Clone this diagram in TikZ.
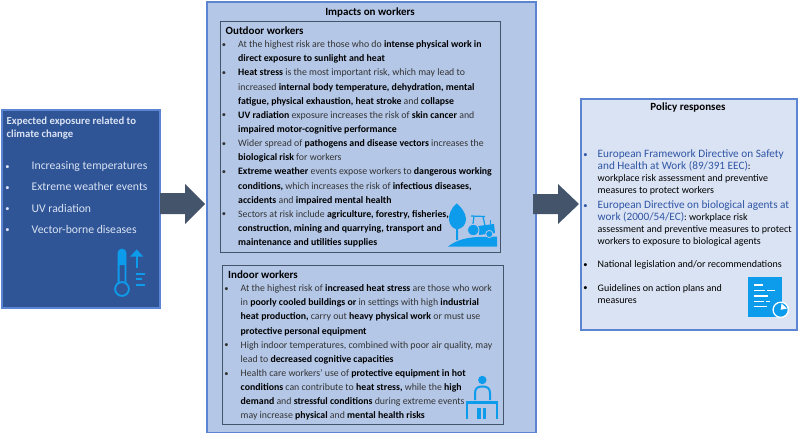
\documentclass[tikz,border=0pt]{standalone}
\usepackage{fontspec}
\setmainfont{Carlito}
\definecolor{edgeblue}{HTML}{5B85D2}
\definecolor{darkblue}{HTML}{2F5597}
\definecolor{midblue}{HTML}{B4C7E7}
\definecolor{paleblue}{HTML}{DAE3F3}
\definecolor{slate}{HTML}{44546A}
\definecolor{iconblue}{HTML}{0D9CEB}
\definecolor{linkblue}{HTML}{2F55A5}
\definecolor{bodygrey}{HTML}{333333}
\tikzset{
  panel/.style={draw=edgeblue,line width=2pt},
  subpanel/.style={draw=slate,line width=1pt},
  blockarrow/.style={fill=slate},
  textblock/.style={anchor=north west,align=left,inner sep=0pt,font=\fontsize{9.82pt}{14.15pt}\selectfont,text=bodygrey},
  heading/.style={inner sep=0pt,font=\fontsize{11pt}{13pt}\selectfont\bfseries,text=black},
  icon/.style={fill=iconblue,draw=none},
  iconline/.style={draw=iconblue,line width=1.8pt},
  docline/.style={draw=white,line width=1.1pt},
}
\newcommand{\smallbul}{{\fontsize{8.5pt}{8.5pt}\selectfont\raisebox{0.4pt}{•}}}
\newcommand{\bul}{\leavevmode\llap{\smallbul\hspace{12pt}}}
\newcommand{\bb}[1]{\textbf{\textcolor{black}{#1}}}
\newcommand{\eu}[1]{{\fontsize{11.25pt}{11.8pt}\selectfont\textcolor{linkblue}{#1}}}
\begin{document}
\begin{tikzpicture}[x=1pt,y=-1pt]
\useasboundingbox (0,0) rectangle (800,433);
% panels
\node[panel,fill=darkblue,minimum width=158pt,minimum height=197pt,inner sep=0pt,anchor=north west] (expo) at (1,109.5) {};
\node[panel,fill=midblue,minimum width=329pt,minimum height=431pt,inner sep=0pt,anchor=north west] (impacts) at (206,1) {};
\node[panel,fill=paleblue,minimum width=216pt,minimum height=231pt,inner sep=0pt,anchor=north west] (policy) at (580,98) {};
\node[subpanel,minimum width=280pt,minimum height=231pt,inner sep=0pt,anchor=north west] (outdoor) at (220,21) {};
\node[subpanel,minimum width=281pt,minimum height=159pt,inner sep=0pt,anchor=north west] (indoor) at (222,264.5) {};
% block arrows
\fill[blockarrow] (160,193) -- (185,193) -- (185,184) -- (205,204) -- (185,224) -- (185,214) -- (160,214) -- cycle;
\fill[blockarrow] (533,194) -- (558,194) -- (558,184) -- (579,204) -- (558,224) -- (558,214) -- (533,214) -- cycle;
% left text
\node[anchor=north west,align=left,inner sep=0pt,text=paleblue,font=\fontsize{10.7pt}{13pt}\selectfont\bfseries] (expotitle) at (6.5,117) {Expected exposure related to\\climate change};
\node[anchor=north west,align=left,inner sep=0pt,text=paleblue,font=\fontsize{11.7pt}{21.2pt}\selectfont] (expolist) at (31.5,161.5) {\leavevmode\llap{\smallbul\hspace{22pt}}Increasing temperatures\\\leavevmode\llap{\smallbul\hspace{22pt}}Extreme weather events\\\leavevmode\llap{\smallbul\hspace{22pt}}UV radiation\\\leavevmode\llap{\smallbul\hspace{22pt}}Vector-borne diseases};
% middle text
\node[heading] (imptitle) at (370,13) {Impacts on workers};
\node[anchor=west,inner sep=0pt,font=\fontsize{11pt}{13pt}\selectfont\bfseries] (outhead) at (225.5,31) {Outdoor workers};
\node[textblock] (outtext) at (238,40.5) {%
\bul At the highest risk are those who do \bb{intense physical work in}\\
\bb{direct exposure to sunlight and heat}\\
\bul\bb{Heat stress} is the most important risk, which may lead to\\
increased \bb{internal body temperature, dehydration, mental}\\
\bb{fatigue, physical exhaustion, heat stroke} and \bb{collapse}\\
\bul\bb{UV radiation} exposure increases the risk of \bb{skin cancer} and\\
\bb{impaired motor-cognitive performance}\\
\bul Wider spread of \bb{pathogens and disease vectors} increases the\\
\bb{biological risk} for workers\\
\bul\bb{Extreme weather} events expose workers to \bb{dangerous working}\\
\bb{conditions,} which increases the risk of \bb{infectious diseases,}\\
\bb{accidents} and \bb{impaired mental health}\\
\bul Sectors at risk include \bb{agriculture, forestry, fisheries,}\\
\bb{construction, mining and quarrying, transport and}\\
\bb{maintenance and utilities supplies}};
\node[anchor=west,inner sep=0pt,font=\fontsize{11pt}{13pt}\selectfont\bfseries] (inhead) at (228,274.5) {Indoor workers};
\node[textblock] (intext) at (240.5,284.5) {%
\bul At the highest risk of \bb{increased heat stress} are those who work\\
in \bb{poorly cooled buildings or} in settings with high \bb{industrial}\\
\bb{heat production,} carry out \bb{heavy physical work} or must use\\
\bb{protective personal equipment}\\
\bul High indoor temperatures, combined with poor air quality, may\\
lead to \bb{decreased cognitive capacities}\\
\bul Health care workers’ use of \bb{protective equipment in hot}\\
\bb{conditions} can contribute to \bb{heat stress,} while the \bb{high}\\
\bb{demand} and \bb{stressful conditions} during extreme events\\
may increase \bb{physical} and \bb{mental health risks}};
% right text
\node[heading] (poltitle) at (688,108) {Policy responses};
\node[anchor=north west,align=left,inner sep=0pt,font=\fontsize{10pt}{12pt}\selectfont,text=black] (poltext) at (597.5,149.5) {%
\leavevmode\llap{\textcolor{linkblue}{\smallbul}\hspace{10pt}}\eu{European Framework Directive on Safety}\\
\eu{and Health at Work (89/391 EEC)}:\\
workplace risk assessment and preventive\\
measures to protect workers\\[3pt]
\leavevmode\llap{\textcolor{linkblue}{\smallbul}\hspace{10pt}}\eu{European Directive on biological agents at}\\
\eu{work (2000/54/EC)}: workplace risk\\
assessment and preventive measures to protect\\
workers to exposure to biological agents\\[11.4pt]
\leavevmode\llap{\smallbul\hspace{10pt}}National legislation and/or recommendations\\[11.4pt]
\leavevmode\llap{\smallbul\hspace{10pt}}Guidelines on action plans and\\
measures};
% thermometer icon
\draw[iconline] (118.6,283) -- (118.6,253) arc[start angle=180,end angle=360,x radius=3.4pt,y radius=-3.4pt] -- (125.4,283);
\draw[iconline,fill=none] (122,289) circle[radius=6.9pt];
\fill[icon] (118,265) -- (118,253) .. controls (118,248) and (126,248) .. (126,253) -- (126,265) -- cycle;
\fill[icon] (136.7,249.5) -- (143.3,256.7) -- (130,256.7) -- cycle;
\draw[iconline] (136.7,256) -- (136.7,268.3);
\draw[iconline] (135.7,273.7) -- (145,273.7);
\draw[iconline] (135.7,279.3) -- (141.7,279.3);
\draw[iconline] (135.7,285) -- (145,285);
% tree and tractor icon
\fill[icon] (456.7,203.3) .. controls (451,208) and (448.5,215) .. (449,220) .. controls (449.5,225) and (453,228.5) .. (456,229) -- (456,240) -- (458,240) -- (458,229) .. controls (462,228.5) and (466,225) .. (466,219) .. controls (466,213) and (461,207) .. (456.7,203.3) -- cycle;
\fill[icon] (448,246.5) .. controls (455,241) and (465,237.5) .. (478,237) -- (497,236.5) -- (497,246.5) -- cycle;
\draw[iconline,line width=1.2pt] (471,216) -- (485,216.5);
\draw[iconline,line width=1.2pt] (474,216) -- (473,224);
\draw[iconline,line width=1.2pt] (483,216.5) -- (485,226);
\fill[icon] (478,226) -- (494,224) -- (495,233) -- (479,235) -- cycle;
\fill[icon] (489.7,219.5) rectangle (491.2,225);
\draw[midblue,fill=iconblue,line width=0.8pt] (473.3,230) circle[radius=5.7pt];
\draw[midblue,fill=iconblue,line width=0.8pt] (489.3,234) circle[radius=3.6pt];
% person at desk icon
\fill[icon] (482.3,380) circle[radius=4.2pt];
\draw[iconline,line width=2pt] (475,400) -- (475,393) .. controls (475,388) and (478,386.5) .. (482.3,386.5) .. controls (487,386.5) and (490,388) .. (490,393) -- (490,400);
\fill[icon] (466,401) rectangle (498.3,404.3);
\fill[icon] (466,401) rectangle (468.3,418.5);
\fill[icon] (496,401) rectangle (498.3,418.5);
\fill[icon] (477.3,408.3) rectangle (481,418.5);
\fill[icon] (482.5,408.3) rectangle (486.2,418.5);
% document icon
\fill[icon] (748.3,277.3) rectangle (781.7,316.7);
\draw[docline] (754,285) -- (762.7,285);
\draw[docline] (754,290.7) -- (765,290.7);
\draw[docline] (767,290.7) -- (775,290.7);
\draw[docline] (754,296) -- (768,296);
\draw[docline] (754,301.7) -- (764,301.7);
\draw[docline] (766,301.7) -- (770,301.7);
\draw[docline] (754,306.7) -- (767,306.7);
\draw[white,fill=iconblue,line width=1.3pt] (780.7,309.8) circle[radius=7.6pt];
\fill[white] (780.7,309.8) -- (781.5,303.5) -- (787,308.5) -- cycle;
\end{tikzpicture}
\end{document}
